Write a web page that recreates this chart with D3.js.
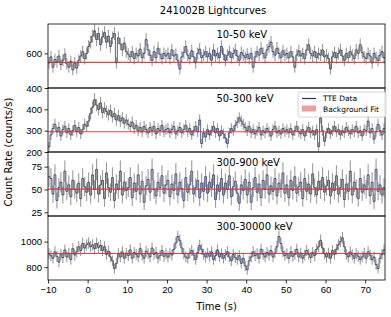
<!DOCTYPE html>
<html>
<head>
<meta charset="utf-8">
<script src="https://cdn.jsdelivr.net/npm/d3@7"></script>
<style>
  body { margin: 0; background: #fff; }
  svg { font-family: "DejaVu Sans", sans-serif; }
  .tick text { font-size: 9.5px; fill: #000; }
  .tick line, .domain { stroke: #000; stroke-width: 0.8; }
</style>
</head>
<body>
<svg id="chart" width="391" height="317"></svg>
<script>
const title = '241002B Lightcurves';
const binWidth = 0.5;
const timeStart = -10;
const bands = ['10-50 keV', '50-300 keV', '300-900 keV', '300-30000 keV'];
const yTicks = [[400, 600], [200, 300, 400], [25, 50, 75], [800, 1000]];
const yLimits = [[400, 770], [200, 500], [21, 91], [700, 1200]];
const xTicks = [-10, 0, 10, 20, 30, 40, 50, 60, 70];

// background fit at t = -10 and t = 75
const bgFit = [[548, 548], [295, 295], [50.5, 50.5], [907, 907]];

// 0.5 s bins from -10 s
const rate1050 = [
  545, 580, 520, 565, 550, 585, 535, 560, 595, 540, 520, 555, 505, 545, 515, 560, 585, 610, 570, 600,
  640, 665, 700, 730, 680, 715, 650, 695, 720, 665, 700, 640, 690, 715, 545, 690, 655, 620, 660, 610,
  595, 580, 610, 570, 600, 585, 625, 575, 600, 680, 620, 590, 560, 610, 575, 630, 595, 570, 600, 585,
  600, 570, 620, 585, 595, 560, 510, 580, 605, 640, 590, 570, 615, 580, 545, 600, 625, 575, 590, 610,
  580, 600, 560, 620, 585, 600, 575, 640, 595, 560, 590, 610, 575, 600, 620, 585, 560, 605, 590, 575,
  595, 570, 600, 520, 580, 610, 590, 630, 600, 575, 620, 640, 665, 610, 590, 630, 600, 575, 615, 590,
  600, 575, 610, 580, 520, 590, 615, 585, 600, 570, 620, 650, 600, 585, 610, 575, 600, 590, 620, 580,
  590, 570, 510, 580, 605, 575, 600, 620, 585, 560, 600, 575, 610, 590, 570, 620, 600, 650, 605, 580,
  570, 600, 585, 545, 600, 575, 560, 590, 610, 575
];
const rate50300 = [
  225, 280, 310, 330, 295, 315, 275, 305, 320, 290, 310, 280, 300, 325, 295, 315, 285, 305, 330, 320,
  345, 380, 410, 445, 420, 400, 430, 385, 405, 390, 375, 395, 365, 380, 350, 370, 345, 360, 335, 350,
  330, 320, 340, 310, 325, 300, 315, 295, 320, 305, 290, 315, 300, 320, 285, 310, 300, 325, 295, 305,
  310, 290, 305, 320, 285, 300, 315, 290, 305, 325, 295, 310, 280, 300, 320, 295, 350, 240, 290, 270,
  305, 280, 300, 320, 290, 310, 275, 300, 285, 265, 240, 290, 310, 300, 325, 340, 360, 345, 330, 315,
  300, 320, 290, 305, 285, 300, 315, 280, 300, 290, 310, 295, 275, 305, 320, 290, 300, 285, 310, 295,
  305, 290, 310, 280, 300, 320, 295, 285, 305, 275, 300, 315, 290, 300, 280, 305, 225, 360, 300, 250,
  290, 310, 285, 300, 320, 295, 305, 280, 300, 290, 315, 300, 285, 305, 295, 320, 290, 300, 275, 305,
  300, 345, 290, 310, 260, 295, 330, 300, 280, 310
];
const rate300900 = [
  64, 62, 45, 66, 38, 52, 58, 44, 70, 48, 55, 42, 60, 50, 46, 57, 40, 62, 53, 47,
  58, 44, 66, 50, 72, 45, 55, 60, 40, 68, 52, 47, 63, 38, 56, 50, 70, 44, 58, 49,
  52, 63, 41, 57, 48, 66, 45, 59, 36, 54, 61, 47, 72, 50, 43, 58, 52, 65, 46, 55,
  60, 42, 56, 49, 67, 44, 58, 51, 38, 63, 47, 55, 70, 45, 52, 60, 41, 57, 48, 64,
  46, 58, 52, 66, 39, 55, 48, 62, 44, 57, 50, 65, 42, 53, 59, 46, 35, 55, 49, 61,
  44, 58, 36, 52, 63, 47, 56, 41, 60, 50, 66, 45, 54, 48, 62, 43, 57, 51, 68, 46,
  55, 41, 60, 49, 64, 46, 53, 58, 40, 62, 48, 56, 45, 67, 52, 44, 59, 50, 63, 47,
  54, 60, 43, 57, 49, 65, 45, 52, 61, 39, 56, 48, 70, 44, 58, 51, 40, 62, 47, 55,
  50, 66, 43, 58, 37, 72, 48, 55, 44, 52
];
const rate30030000 = [
  905, 890, 870, 920, 885, 840, 900, 875, 935, 880, 910, 860, 945, 895, 920, 960, 930, 985, 950, 975,
  990, 960, 975, 945, 985, 955, 970, 930, 960, 900, 925, 880, 850, 790, 830, 905, 880, 920, 870, 910,
  890, 935, 870, 915, 900, 880, 945, 895, 870, 925, 905, 880, 950, 900, 915, 870, 890, 930, 885, 905,
  880, 910, 895, 940, 990, 1040, 1010, 950, 905, 880, 870, 910, 930, 895, 860, 915, 970, 940, 900, 880,
  910, 885, 920, 860, 890, 935, 880, 905, 870, 895, 920, 880, 850, 900, 875, 860, 890, 830, 870, 810,
  780, 850, 880, 920, 890, 905, 870, 940, 900, 880, 915, 895, 930, 880, 910, 960, 1040, 985, 920, 890,
  905, 870, 920, 885, 900, 940, 880, 910, 870, 895, 930, 900, 875, 915, 890, 940, 960, 1010, 950, 905,
  880, 910, 870, 930, 900, 940, 975, 1000, 1030, 960, 900, 880, 920, 895, 870, 905, 885, 860, 880, 910,
  870, 920, 895, 860, 880, 820, 790, 870, 900, 935
];
const rates = [rate1050, rate50300, rate300900, rate30030000];

const margin = { top: 24, left: 48, right: 6 };
const width = 391 - margin.left - margin.right;
const panelHeight = 64;

const svg = d3.select('#chart');

const x = d3.scaleLinear().domain([-10, 75]).range([0, width]);

svg.append('text')
  .attr('x', 213)
  .attr('y', 14)
  .attr('text-anchor', 'middle')
  .style('font-size', '10px')
  .text(title);

svg.append('text')
  .attr('transform', `translate(12, ${margin.top + panelHeight * 2}) rotate(-90)`)
  .attr('text-anchor', 'middle')
  .style('font-size', '10px')
  .text('Count Rate (counts/s)');

bands.forEach((band, i) => {
  const g = svg.append('g')
    .attr('transform', `translate(${margin.left}, ${margin.top + i * panelHeight})`);

  const y = d3.scaleLinear().domain(yLimits[i]).range([panelHeight, 0]);

  g.append('clipPath')
    .attr('id', `clip${i}`)
    .append('rect')
    .attr('width', width)
    .attr('height', panelHeight);

  const plot = g.append('g').attr('clip-path', `url(#clip${i})`);

  const data = rates[i].map((v, j) => ({
    t: timeStart + j * binWidth,
    mid: timeStart + (j + 0.5) * binWidth,
    v: v,
    err: Math.sqrt(v / binWidth)
  }));

  // error bars
  plot.selectAll('.err')
    .data(data)
    .enter()
    .append('line')
    .attr('x1', d => x(d.mid))
    .attr('x2', d => x(d.mid))
    .attr('y1', d => y(d.v - d.err))
    .attr('y2', d => y(d.v + d.err))
    .attr('stroke', '#8a8a8a')
    .attr('stroke-opacity', 0.85)
    .attr('stroke-width', 1.1);

  const stepPoints = data.map(d => [d.t, d.v]);
  stepPoints.push([75, data[data.length - 1].v]);

  const line = d3.line()
    .x(d => x(d[0]))
    .y(d => y(d[1]))
    .curve(d3.curveStepAfter);

  plot.append('path')
    .datum(stepPoints)
    .attr('d', line)
    .attr('fill', 'none')
    .attr('stroke', '#25325c')
    .attr('stroke-opacity', 0.75)
    .attr('stroke-width', 1);

  plot.append('line')
    .attr('x1', x(-10))
    .attr('x2', x(75))
    .attr('y1', y(bgFit[i][0]))
    .attr('y2', y(bgFit[i][1]))
    .attr('stroke', '#d62728')
    .attr('stroke-opacity', 0.85)
    .attr('stroke-width', 1.2);

  g.append('g')
    .call(d3.axisLeft(y).tickValues(yTicks[i]).tickSize(3.5).tickPadding(2.5).tickFormat(d3.format('d')))
    .call(a => a.select('.domain').remove());

  g.append('rect')
    .attr('width', width)
    .attr('height', panelHeight)
    .attr('fill', 'none')
    .attr('stroke', '#000')
    .attr('stroke-width', 0.8);

  g.append('text')
    .attr('x', width / 2)
    .attr('y', 14)
    .style('font-size', '10px')
    .text(band);

  if (i === bands.length - 1) {
    g.append('g')
      .attr('transform', `translate(0, ${panelHeight})`)
      .call(d3.axisBottom(x).tickValues(xTicks).tickSize(3.5).tickPadding(2.5)
        .tickFormat(d => d < 0 ? '\u2212' + Math.abs(d) : d))
      .call(a => a.select('.domain').remove());

    g.append('text')
      .attr('x', width / 2)
      .attr('y', panelHeight + 30)
      .attr('text-anchor', 'middle')
      .style('font-size', '10px')
      .text('Time (s)');
  }

  if (i === 1) {
    const legend = g.append('g').attr('transform', `translate(${250}, 4)`);
    legend.append('rect')
      .attr('width', 88)
      .attr('height', 25)
      .attr('rx', 2)
      .attr('fill', '#fff')
      .attr('fill-opacity', 0.8)
      .attr('stroke', '#ccc')
      .attr('stroke-width', 0.8);
    legend.append('line')
      .attr('x1', 4).attr('x2', 18)
      .attr('y1', 6.5).attr('y2', 6.5)
      .attr('stroke', '#25325c')
      .attr('stroke-width', 1.2);
    legend.append('text')
      .attr('x', 25).attr('y', 9)
      .style('font-size', '7.5px')
      .text('TTE Data');
    legend.append('rect')
      .attr('x', 4).attr('y', 13.5)
      .attr('width', 14).attr('height', 6)
      .attr('fill', '#d62728')
      .attr('fill-opacity', 0.45);
    legend.append('text')
      .attr('x', 25).attr('y', 19.5)
      .style('font-size', '7.5px')
      .text('Background Fit');
  }
});
</script>
</body>
</html>
